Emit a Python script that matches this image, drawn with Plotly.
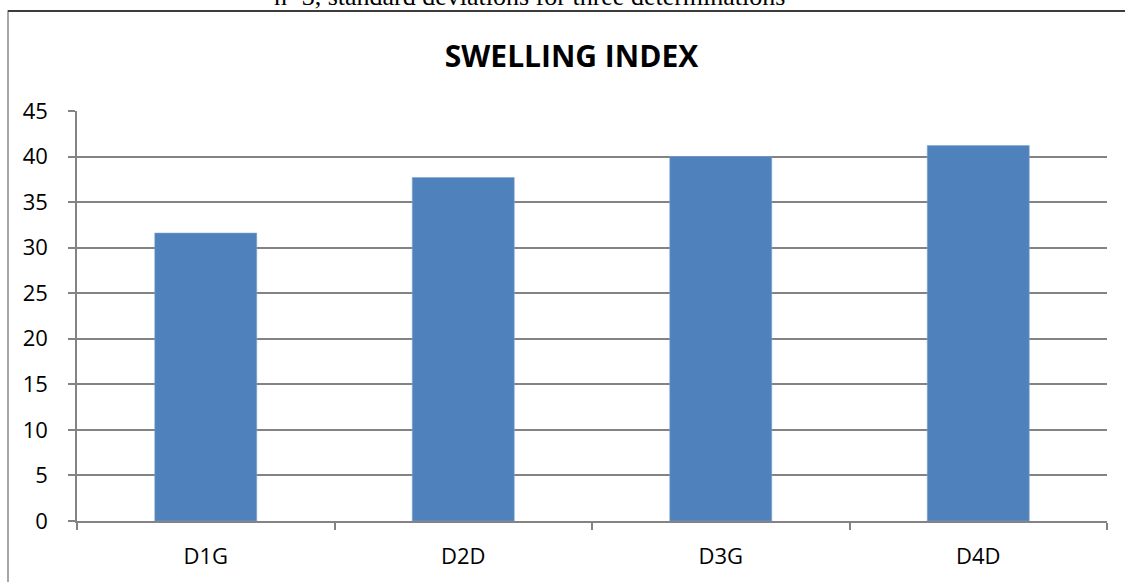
import plotly.graph_objects as go

# Swelling index per formulation
categories = ["D1G", "D2D", "D3G", "D4D"]
swelling_index = [31.6, 37.7, 40.0, 41.2]
y_ticks = [0, 5, 10, 15, 20, 25, 30, 35, 40, 45]

W, H = 1125, 582
M_L, M_R, M_T, M_B = 77, 18, 111, 61
PW, PH = W - M_L - M_R, H - M_T - M_B


def px_x(x):
    return (x - M_L) / PW


def px_y(y):
    return (H - M_B - y) / PH


GRID = "#838383"
BAR = "#4f81bd"
FONT = "Open Sans"

fig = go.Figure(
    go.Bar(
        x=categories,
        y=swelling_index,
        marker=dict(color=BAR, line=dict(color="#7fa3d0", width=0.6)),
        hoverinfo="x+y",
    )
)

fig.update_layout(
    width=W,
    height=H,
    margin=dict(l=M_L, r=M_R, t=M_T, b=M_B),
    paper_bgcolor="white",
    plot_bgcolor="white",
    bargap=0.604,
    showlegend=False,
    title=dict(
        text="<b>SWELLING INDEX</b>",
        font=dict(family=FONT, size=30, color="black"),
        x=571.5 / W,
        xanchor="center",
        y=1 - 56 / H,
        yanchor="middle",
    ),
    font=dict(family=FONT, size=22, color="black"),
)

fig.update_yaxes(
    range=[0, 45],
    tickvals=y_ticks,
    showgrid=True,
    gridcolor=GRID,
    gridwidth=1.5,
    zeroline=False,
    showline=True,
    linecolor=GRID,
    linewidth=1.5,
    ticks="outside",
    ticklen=7,
    tickwidth=1.5,
    tickcolor=GRID,
    ticklabelstandoff=16,
    tickfont=dict(family=FONT, size=22, color="black"),
    fixedrange=True,
)

fig.update_xaxes(
    type="category",
    showgrid=False,
    showline=True,
    linecolor=GRID,
    linewidth=1.5,
    ticks="outside",
    tickson="boundaries",
    ticklen=7,
    tickwidth=1.5,
    tickcolor=GRID,
    ticklabelstandoff=15,
    tickfont=dict(family=FONT, size=22, color="black"),
    fixedrange=True,
)

# Chart-area frame, left and top edges visible on the page
fig.add_shape(
    type="rect", xref="paper", yref="paper", layer="below",
    x0=px_x(8), x1=px_x(1140), y0=px_y(600), y1=px_y(11),
    line=dict(color="#8a8a8a", width=1.5), fillcolor="white",
)
fig.add_shape(
    type="line", xref="paper", yref="paper",
    x0=px_x(8), x1=px_x(1140), y0=px_y(11), y1=px_y(11),
    line=dict(color="#3c3c3c", width=2),
)

# Caption line running above the chart frame
fig.add_annotation(
    text="n=3, standard deviations for three determinations",
    xref="paper", yref="paper",
    x=px_x(529), y=px_y(13),
    xanchor="center", yanchor="bottom",
    showarrow=False,
    font=dict(family="Liberation Serif", size=26, color="black"),
)

fig.write_html("out.html")
